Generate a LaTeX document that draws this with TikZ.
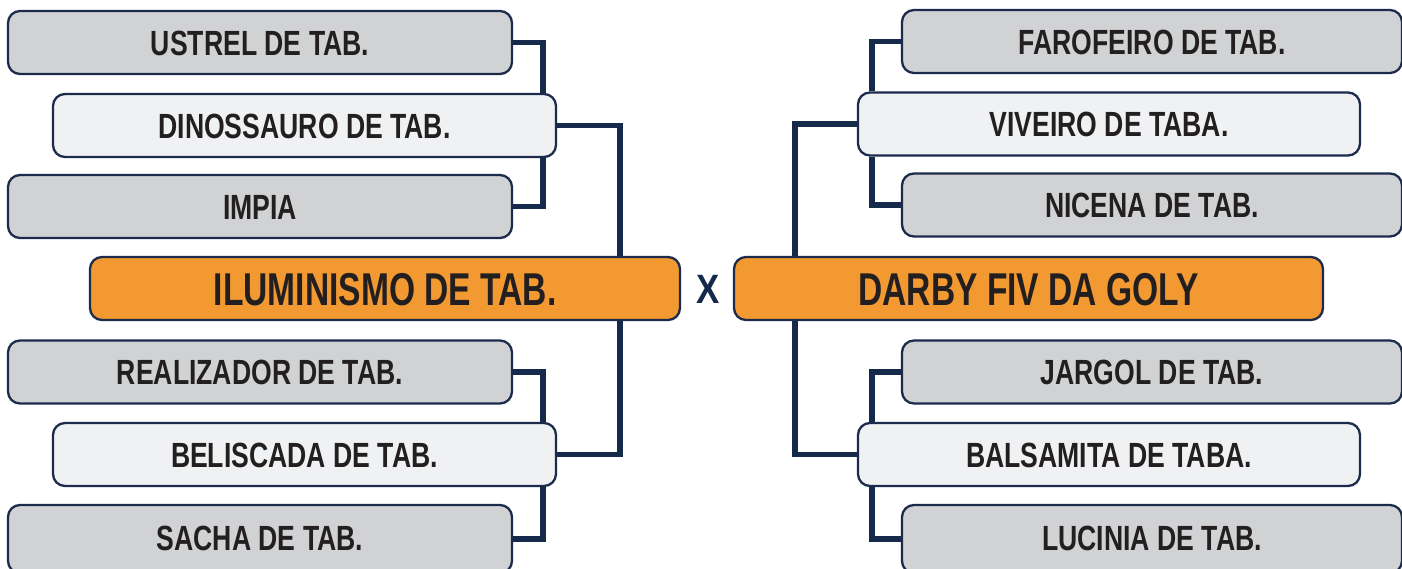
\documentclass[tikz,border=0pt]{standalone}
\usepackage{fontspec}
\setmainfont{Liberation Sans}
\newfontfamily\leaffont[FakeStretch=0.76]{Liberation Sans}
\newfontfamily\bigfont[FakeStretch=0.73]{Liberation Sans}
\newfontfamily\xfont[FakeStretch=0.85]{Liberation Sans}
\usetikzlibrary{backgrounds}
\definecolor{navy}{HTML}{15294B}
\definecolor{boxline}{HTML}{1C2B4C}
\definecolor{leafgray}{HTML}{D1D2D4}
\definecolor{leaflight}{HTML}{F0F1F3}
\definecolor{teamorange}{HTML}{F29A31}
\definecolor{txt}{HTML}{231F20}
\tikzset{
  basebox/.style={draw=boxline, line width=2.3pt, rounded corners=12pt, inner sep=0pt,
    text=txt, text height=25pt, text depth=0pt, align=center},
  leafbox/.style={basebox, fill=leafgray, minimum width=504pt, minimum height=63pt,
    font=\leaffont\bfseries\fontsize{35}{40}\selectfont},
  semibox/.style={basebox, fill=leaflight, minimum width=503pt, minimum height=63pt,
    font=\leaffont\bfseries\fontsize{35}{40}\selectfont},
  finalbox/.style={basebox, fill=teamorange, minimum width=590pt, minimum height=63pt,
    text height=33pt, font=\bigfont\bfseries\fontsize{46}{50}\selectfont},
  link/.style={draw=navy, line width=5.2pt}
}
\begin{document}
\begin{tikzpicture}[x=1pt,y=-1pt]
\useasboundingbox (0,0) rectangle (1402,568);
\clip (0,0) rectangle (1402,568);
% left side
\node[leafbox] (ustrel) at (260,42.5) {USTREL DE TAB.};
\node[semibox] (dino) at (304.5,125.5) {DINOSSAURO DE TAB.};
\node[leafbox] (impia) at (260,206.5) {IMPIA};
\node[finalbox] (ilu) at (385,288.5) {ILUMINISMO DE TAB.};
\node[leafbox] (real) at (260,372) {REALIZADOR DE TAB.};
\node[semibox] (beli) at (304.5,454.5) {BELISCADA DE TAB.};
\node[leafbox, minimum height=68pt, text depth=3pt] (sacha) at (260,539) {SACHA DE TAB.};
% right side
\node[leafbox, minimum width=500pt] (faro) at (1152,41.5) {FAROFEIRO DE TAB.};
\node[semibox, minimum width=502pt] (viv) at (1109,124) {VIVEIRO DE TABA.};
\node[leafbox, minimum width=500pt] (nicena) at (1152,205) {NICENA DE TAB.};
\node[finalbox, minimum width=589pt] (darby) at (1028.5,288.5) {DARBY FIV DA GOLY};
\node[leafbox, minimum width=500pt] (jargol) at (1152,372) {JARGOL DE TAB.};
\node[semibox, minimum width=502pt] (bals) at (1109,454.5) {BALSAMITA DE TABA.};
\node[leafbox, minimum width=500pt, minimum height=68pt, text depth=3pt] (lucinia) at (1152,539) {LUCINIA DE TAB.};
% versus
\node[text=navy, inner sep=0pt, text height=29pt, text depth=0pt,
  font=\xfont\bfseries\fontsize{41}{44}\selectfont] (vs) at (708,289) {X};
% connector columns
\coordinate (cL) at (543,0);
\coordinate (cM) at (620,0);
\coordinate (cR) at (795,0);
\coordinate (cr) at (872,0);
\begin{scope}[on background layer]
\draw[link] (ustrel.east) -| (cL |- dino.north);
\draw[link] (impia.east) -| (cL |- dino.south);
\draw[link] (real.east) -| (cL |- beli.north);
\draw[link] (sacha.east) -| (cL |- beli.south);
\draw[link] (dino.east) -| (cM |- ilu.north);
\draw[link] (beli.east) -| (cM |- ilu.south);
\draw[link] (faro.west) -| (cr |- viv.north);
\draw[link] (nicena.west) -| (cr |- viv.south);
\draw[link] (jargol.west) -| (cr |- bals.north);
\draw[link] (lucinia.west) -| (cr |- bals.south);
\draw[link] (viv.west) -| (cR |- darby.north);
\draw[link] (bals.west) -| (cR |- darby.south);
\end{scope}
\end{tikzpicture}
\end{document}
